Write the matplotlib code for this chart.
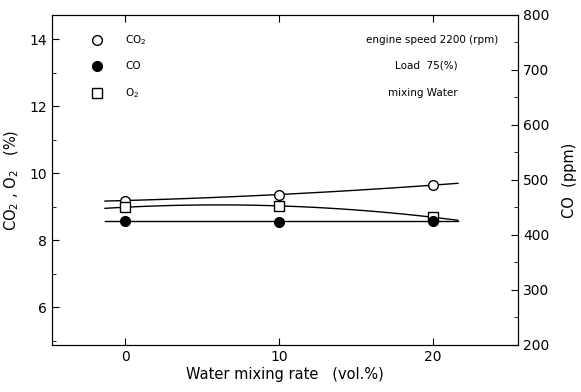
import numpy as np
import matplotlib.pyplot as plt
from matplotlib.ticker import MultipleLocator

# data
water = [0, 10, 20]
co2 = [9.18, 9.36, 9.64]     # %
o2 = [8.98, 9.02, 8.68]      # %
co = [426, 424, 426]         # ppm
x_fit = np.linspace(-1.3, 21.6, 100)

fig = plt.figure(figsize=(5.81, 3.92), dpi=100)
ax = fig.add_axes([0.0895, 0.120, 0.802, 0.842])
ax2 = ax.twinx()

# fitted smooth lines
ax.plot(x_fit, np.polyval(np.polyfit(water, co2, 2), x_fit), 'k-', lw=1.0)
ax.plot(x_fit, np.polyval(np.polyfit(water, o2, 2), x_fit), 'k-', lw=1.0)
ax2.plot(x_fit, np.polyval(np.polyfit(water, co, 1), x_fit), 'k-', lw=1.0)

ax.plot(water, co2, 'o', mfc='white', mec='k', ms=7, mew=1.0)
ax.plot(water, o2, 's', mfc='white', mec='k', ms=7, mew=1.0)
ax2.plot(water, co, 'o', mfc='k', mec='k', ms=7)

ax.set_xlim(-4.74, 25.5)
ax.set_ylim(4.87, 14.72)
ax2.set_ylim(200, 800)
ax.set_xticks([0, 10, 20])
ax.set_yticks([6, 8, 10, 12, 14])
ax.yaxis.set_minor_locator(MultipleLocator(1))
ax2.set_yticks([200, 300, 400, 500, 600, 700, 800])
ax2.yaxis.set_minor_locator(MultipleLocator(50))

ax.tick_params(direction='in', length=5, labelsize=10, top=True)
ax.tick_params(which='minor', direction='in', length=3)
ax2.tick_params(direction='in', length=5, labelsize=10)
ax2.tick_params(which='minor', direction='in', length=3)

ax.set_xlabel('Water mixing rate   (vol.%)', fontsize=10.5, labelpad=2)
ax.set_ylabel('CO$_2$ , O$_2$   (%)', fontsize=10.5, labelpad=6)
ax2.set_ylabel('CO  (ppm)', fontsize=10.5, labelpad=9)

# legend drawn by hand
leg_y = [13.98, 13.2, 12.4]
ax.plot([-1.8], [leg_y[0]], 'o', mfc='white', mec='k', ms=7)
ax.plot([-1.8], [leg_y[1]], 'o', mfc='k', mec='k', ms=7)
ax.plot([-1.8], [leg_y[2]], 's', mfc='white', mec='k', ms=7)
ax.text(0.0, leg_y[0], 'CO$_2$', fontsize=7.5, va='center')
ax.text(0.0, leg_y[1], 'CO', fontsize=7.5, va='center')
ax.text(0.0, leg_y[2], 'O$_2$', fontsize=7.5, va='center')

ax.text(24.2, leg_y[0], 'engine speed 2200 (rpm)', fontsize=7.5, va='center', ha='right')
ax.text(21.6, leg_y[1], 'Load  75(%)', fontsize=7.5, va='center', ha='right')
ax.text(21.6, leg_y[2], 'mixing Water', fontsize=7.5, va='center', ha='right')

fig.savefig('out.png', dpi=100)
